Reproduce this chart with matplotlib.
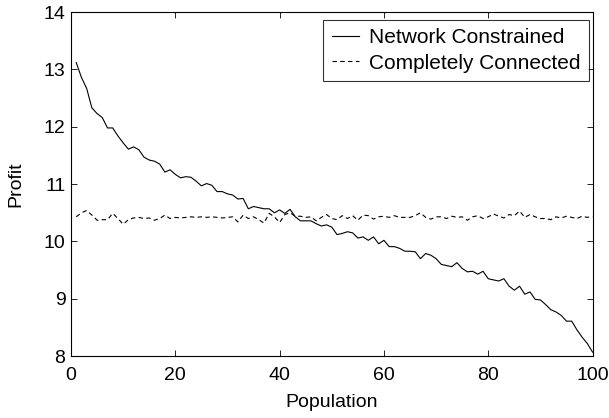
import numpy as np
import matplotlib
matplotlib.use("Agg")
import matplotlib.pyplot as plt

plt.rcParams["font.family"] = ["Liberation Sans", "DejaVu Sans"]

population = np.arange(1, 101)

network_constrained = [
    13.12, 12.86, 12.67, 12.33, 12.23, 12.16, 11.98, 11.98, 11.84, 11.72,
    11.61, 11.65, 11.60, 11.47, 11.42, 11.40, 11.35, 11.21, 11.25, 11.17,
    11.11, 11.13, 11.12, 11.05, 10.97, 11.01, 10.98, 10.87, 10.87, 10.83,
    10.81, 10.74, 10.75, 10.57, 10.61, 10.59, 10.57, 10.57, 10.50, 10.55,
    10.49, 10.56, 10.43, 10.36, 10.36, 10.36, 10.31, 10.27, 10.29, 10.25,
    10.12, 10.14, 10.17, 10.15, 10.06, 10.08, 10.02, 10.08, 9.96, 10.02,
    9.91, 9.91, 9.88, 9.83, 9.83, 9.82, 9.70, 9.79, 9.76, 9.70,
    9.60, 9.58, 9.56, 9.63, 9.53, 9.47, 9.48, 9.43, 9.48, 9.35,
    9.33, 9.31, 9.35, 9.22, 9.15, 9.22, 9.08, 9.12, 8.99, 8.98,
    8.90, 8.81, 8.77, 8.71, 8.61, 8.61, 8.46, 8.33, 8.22, 8.07,
]

completely_connected = [
    10.43, 10.50, 10.54, 10.46, 10.37, 10.38, 10.38, 10.49, 10.40, 10.30,
    10.38, 10.41, 10.42, 10.40, 10.41, 10.37, 10.40, 10.46, 10.40, 10.42,
    10.41, 10.42, 10.43, 10.42, 10.43, 10.42, 10.43, 10.42, 10.41, 10.42,
    10.43, 10.34, 10.46, 10.40, 10.43, 10.38, 10.32, 10.49, 10.43, 10.33,
    10.47, 10.50, 10.44, 10.44, 10.42, 10.43, 10.36, 10.42, 10.47, 10.40,
    10.38, 10.45, 10.40, 10.45, 10.37, 10.46, 10.45, 10.39, 10.43, 10.44,
    10.42, 10.45, 10.42, 10.42, 10.42, 10.45, 10.50, 10.42, 10.39, 10.43,
    10.43, 10.40, 10.44, 10.42, 10.43, 10.37, 10.43, 10.45, 10.40, 10.43,
    10.48, 10.44, 10.41, 10.47, 10.45, 10.53, 10.42, 10.47, 10.43, 10.40,
    10.40, 10.38, 10.43, 10.41, 10.44, 10.42, 10.40, 10.44, 10.42, 10.44,
]

fig = plt.figure(figsize=(6.09, 4.18), dpi=100)
ax = fig.add_axes([0.1166, 0.148, 0.8564, 0.823])

ax.plot(population, network_constrained, color="black", linewidth=0.8,
        label="Network Constrained")
ax.plot(population, completely_connected, color="black", linewidth=0.8,
        linestyle=(0, (4, 3)), label="Completely Connected")

ax.set_xlim(0, 100)
ax.set_ylim(8, 14)
ax.set_xticks([0, 20, 40, 60, 80, 100])
ax.set_yticks([8, 9, 10, 11, 12, 13, 14])
ax.tick_params(direction="in", top=True, right=True, labelsize=14, length=4,
               width=0.6)
ax.tick_params(axis="x", pad=8)
ax.tick_params(axis="y", pad=4)
for s in ax.spines.values():
    s.set_linewidth(0.8)

ax.set_xlabel("Population", fontsize=14, labelpad=7)
ax.set_ylabel("Profit", fontsize=14, labelpad=14)

leg = ax.legend(loc="upper right", bbox_to_anchor=(0.993, 0.977),
                borderaxespad=0, fontsize=15, frameon=True, fancybox=False,
                edgecolor="black", handlelength=1.3, borderpad=0.4,
                labelspacing=0.3, handletextpad=0.5)
leg.get_frame().set_linewidth(0.8)

fig.savefig("out.png", dpi=100)
